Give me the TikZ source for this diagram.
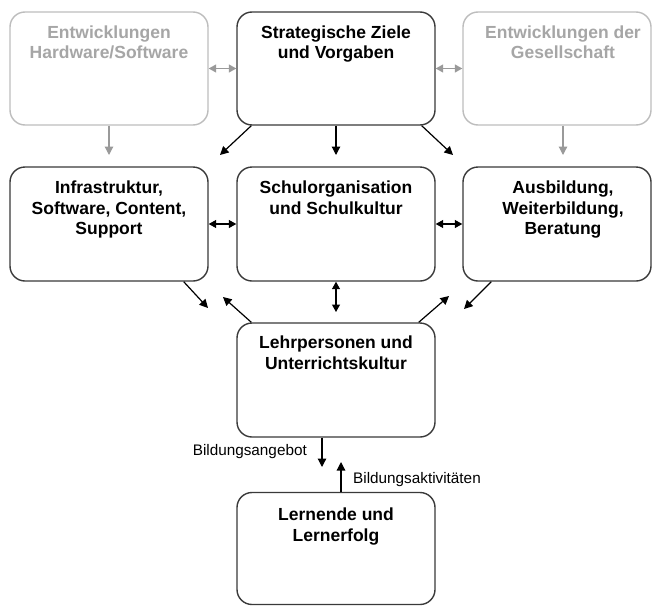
\documentclass[tikz,border=0pt]{standalone}
\usepackage{fontspec}
\setmainfont{Liberation Sans}
\usetikzlibrary{arrows.meta}
\definecolor{dk}{HTML}{3A3A3A}
\definecolor{lg}{HTML}{BDBDBD}
\definecolor{lgt}{HTML}{A6A6A6}
\definecolor{ga}{HTML}{9A9A9A}
\begin{document}
\begin{tikzpicture}[x=1pt,y=-1pt,
  box/.style={draw=dk, line width=1.4pt, rounded corners=15pt, minimum width=198pt, minimum height=113pt, inner sep=0pt},
  gbox/.style={box, draw=lg},
  ttl/.style={anchor=north, inner sep=0pt, align=center, font=\bfseries\fontsize{17.5}{20.5}\selectfont},
  gttl/.style={ttl, text=lgt},
  lbl/.style={inner sep=0pt, font=\fontsize{15.3}{18}\selectfont},
  arr/.style={-{Triangle[length=8.5pt,width=8.5pt]}, line width=1.2pt, draw=black},
  darr/.style={{Triangle[length=7.5pt,width=8pt]}-{Triangle[length=7.5pt,width=8pt]}, line width=1.2pt, draw=black},
  garr/.style={arr, draw=ga},
  gdarr/.style={darr, draw=ga}
]
\clip (0,0) rectangle (652,605);
\fill[white] (0,0) rectangle (652,605);

% boxes
\node[gbox] (hw) at (109,68.5) {};
\node[box] (sz) at (336,68.5) {};
\node[gbox, minimum width=188pt] (ges) at (557,68.5) {};
\node[box, minimum height=114pt] (inf) at (109,224) {};
\node[box, minimum height=114pt] (sch) at (336,224) {};
\node[box, minimum width=188pt, minimum height=114pt] (aus) at (557,224) {};
\node[box, minimum height=114pt] (lp) at (336,380) {};
\node[box, minimum height=112pt] (ln) at (336,548.5) {};

% titles
\node[gttl] (hwt) at (109,25.5) {Entwicklungen\\Hardware/Software};
\node[ttl] (szt) at (336,25.5) {Strategische Ziele\\und Vorgaben};
\node[gttl] (gest) at (563,25.5) {Entwicklungen der\\Gesellschaft};
\node[ttl] (inft) at (109,181) {Infrastruktur,\\Software, Content,\\Support};
\node[ttl] (scht) at (336,181) {Schulorganisation\\und Schulkultur};
\node[ttl] (aust) at (563,181) {Ausbildung,\\Weiterbildung,\\Beratung};
\node[ttl] (lpt) at (336,336) {Lehrpersonen und\\Unterrichtskultur};
\node[ttl] (lnt) at (336,508) {Lernende und\\Lernerfolg};

% free ends
\coordinate (g3e) at (109,155);
\coordinate (g4e) at (563,155);
\coordinate (b1e) at (220,155);
\coordinate (b2e) at (336,155);
\coordinate (b3e) at (453,155);
\coordinate (c1e) at (208,308);
\coordinate (c2e) at (223,297);
\coordinate (c3e) at (336,312);
\coordinate (c4e) at (449,296);
\coordinate (c5e) at (464,309);
\coordinate (e1e) at (322,467);
\coordinate (e2e) at (341,462);

% gray connectors
\draw[gdarr] (hw.east) -- (sz.west);
\draw[gdarr] (sz.east) -- (ges.west);
\draw[garr] (hw.south) -- (g3e);
\draw[garr] ([xshift=6pt]ges.south) -- (g4e);

% black connectors
\draw[arr] ([xshift=15pt]sz.south west) -- (b1e);
\draw[arr] (sz.south) -- (b2e);
\draw[arr] ([xshift=-14pt]sz.south east) -- (b3e);
\draw[darr] (inf.east) -- (sch.west);
\draw[darr] (sch.east) -- (aus.west);
\draw[arr] ([xshift=-25pt]inf.south east) -- (c1e);
\draw[arr] ([xshift=15pt]lp.north west) -- (c2e);
\draw[darr] (sch.south) -- (c3e);
\draw[arr] ([xshift=-17pt]lp.north east) -- (c4e);
\draw[arr] ([xshift=29pt]aus.south west) -- (c5e);
\draw[arr] ([xshift=-14pt]lp.south) -- (e1e);
\draw[arr] ([xshift=5pt]ln.north) -- (e2e);

% labels
\node[lbl, anchor=east] (la) at (307,452) {Bildungsangebot};
\node[lbl, anchor=west] (lb) at (353,480) {Bildungsaktivitäten};
\end{tikzpicture}
\end{document}
